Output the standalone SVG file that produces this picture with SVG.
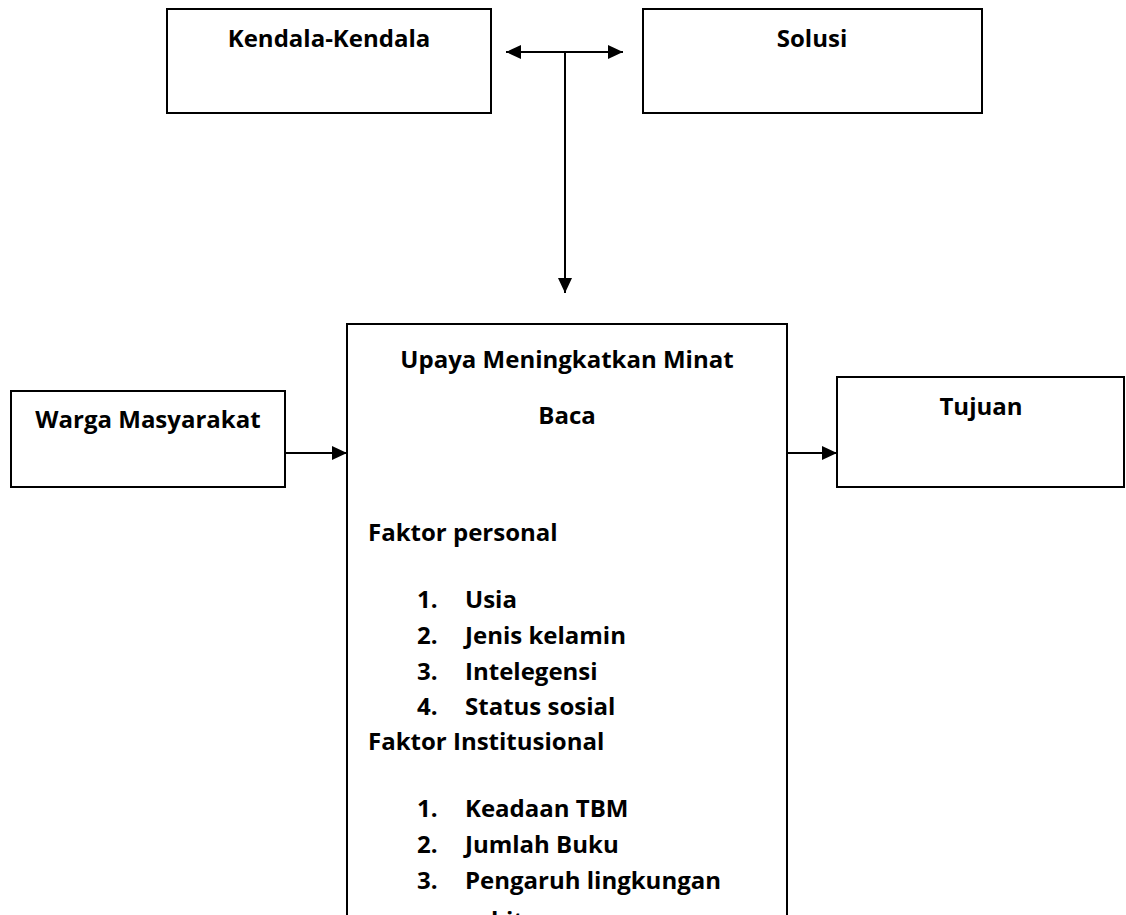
<svg xmlns="http://www.w3.org/2000/svg" width="1126" height="915" viewBox="0 0 1126 915">
  <defs>
    <style>
      .box { fill: #ffffff; stroke: #000000; stroke-width: 2; }
      .t { font-family: "Open Sans", "Noto Sans", sans-serif; font-weight: bold; font-size: 24px; fill: #000000; }
      .c { text-anchor: middle; }
      .conn { stroke: #000000; stroke-width: 2; fill: none; }
    </style>
    <marker id="ah" viewBox="0 0 15 14" refX="15" refY="7" markerWidth="15" markerHeight="14" markerUnits="userSpaceOnUse" orient="auto-start-reverse">
      <path d="M0,0 L15,7 L0,14 z" fill="#000000"/>
    </marker>
  </defs>
  <rect x="0" y="0" width="1126" height="915" fill="#ffffff"/>

  <g id="kendala">
    <rect class="box" x="167" y="9" width="324" height="104"/>
    <text class="t c" x="329" y="47">Kendala-Kendala</text>
  </g>

  <g id="solusi">
    <rect class="box" x="643" y="9" width="339" height="104"/>
    <text class="t c" x="812" y="47">Solusi</text>
  </g>

  <g id="warga">
    <rect class="box" x="11" y="391" width="274" height="96"/>
    <text class="t c" x="148" y="428">Warga Masyarakat</text>
  </g>

  <g id="tujuan">
    <rect class="box" x="837" y="377" width="287" height="110"/>
    <text class="t c" x="981" y="415">Tujuan</text>
  </g>

  <g id="upaya">
    <path class="box" d="M347,930 L347,324 L787,324 L787,930"/>
    <text class="t c" x="567" y="368">Upaya Meningkatkan Minat</text>
    <text class="t c" x="567" y="424">Baca</text>
    <text class="t" x="368" y="541">Faktor personal</text>
    <text class="t" x="417" y="608">1.</text>
    <text class="t" x="465" y="608">Usia</text>
    <text class="t" x="417" y="644">2.</text>
    <text class="t" x="465" y="644">Jenis kelamin</text>
    <text class="t" x="417" y="680">3.</text>
    <text class="t" x="465" y="680">Intelegensi</text>
    <text class="t" x="417" y="715">4.</text>
    <text class="t" x="465" y="715">Status sosial</text>
    <text class="t" x="368" y="750">Faktor Institusional</text>
    <text class="t" x="417" y="817">1.</text>
    <text class="t" x="465" y="817">Keadaan TBM</text>
    <text class="t" x="417" y="853">2.</text>
    <text class="t" x="465" y="853">Jumlah Buku</text>
    <text class="t" x="417" y="889">3.</text>
    <text class="t" x="465" y="889">Pengaruh lingkungan</text>
    <text class="t" x="465" y="929">sekitar</text>
  </g>

  <g id="connectors">
    <line class="conn" x1="506" y1="52" x2="623" y2="52" marker-start="url(#ah)" marker-end="url(#ah)"/>
    <line class="conn" x1="565" y1="52" x2="565" y2="293" marker-end="url(#ah)"/>
    <line class="conn" x1="285" y1="453" x2="347" y2="453" marker-end="url(#ah)"/>
    <line class="conn" x1="787" y1="453" x2="837" y2="453" marker-end="url(#ah)"/>
  </g>
</svg>
